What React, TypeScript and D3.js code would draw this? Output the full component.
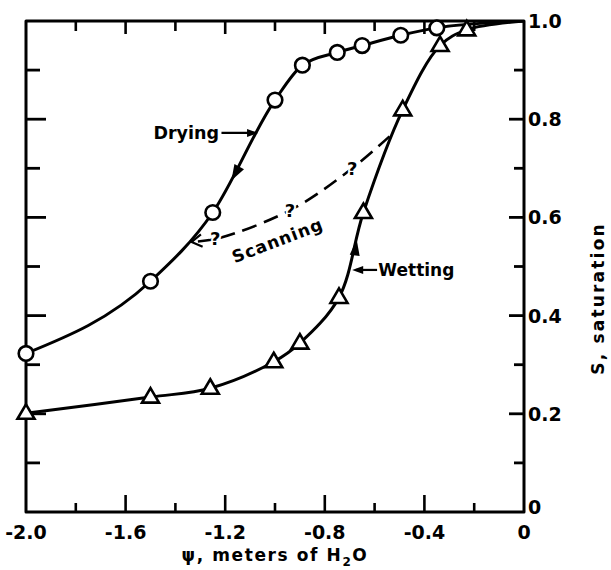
import * as d3 from "d3";

// drying branch (circles), psi in m of H2O, S saturation
const dryPsi = [-2.0, -1.5, -1.25, -1.0, -0.89, -0.75, -0.65, -0.495, -0.35];
const dryS = [0.323, 0.47, 0.61, 0.839, 0.91, 0.936, 0.95, 0.971, 0.986];
// wetting branch (triangles)
const wetPsi = [-2.0, -1.5, -1.26, -1.005, -0.9, -0.743, -0.645, -0.487, -0.337, -0.23];
const wetS = [0.201, 0.234, 0.252, 0.306, 0.344, 0.437, 0.61, 0.819, 0.95, 0.982];
// both branches close at saturation
const endPoint = [0, 1.0];
// scanning curve (dashed), from wetting branch back to drying branch
const scanPsi = [-0.54, -0.69, -0.93, -1.23, -1.335];
const scanS = [0.765, 0.7, 0.617, 0.557, 0.55];
const questionPsi = [-0.69, -0.94, -1.24];
const questionS = [0.7, 0.615, 0.557];

const xTickValues = [-2.0, -1.8, -1.6, -1.4, -1.2, -1.0, -0.8, -0.6, -0.4, -0.2, 0];
const xTickLabels = ["-2.0", "-1.6", "-1.2", "-0.8", "-0.4", "0"];
const xLabelValues = [-2.0, -1.6, -1.2, -0.8, -0.4, 0];
const yTickValues = [0, 0.1, 0.2, 0.3, 0.4, 0.5, 0.6, 0.7, 0.8, 0.9, 1.0];
const yTickLabels = ["0", "0.2", "0.4", "0.6", "0.8", "1.0"];
const yLabelValues = [0, 0.2, 0.4, 0.6, 0.8, 1.0];

const W = 611, H = 570;
const FONT = "'DejaVu Sans', sans-serif";

const x = d3.scaleLinear().domain([-2, 0]).range([26, 524]);
const y = d3.scaleLinear().domain([0, 1]).range([512, 21]);

const isMajorX = (v: number) => Math.abs(Math.round(v / 0.4) * 0.4 - v) < 1e-6;
const isMajorY = (v: number) => Math.abs(Math.round(v / 0.2) * 0.2 - v) < 1e-6;

const line = d3.line<number[]>().x(d => x(d[0])).y(d => y(d[1])).curve(d3.curveCatmullRom.alpha(0.5));
const dryLine = d3.line<number[]>().x(d => x(d[0])).y(d => y(d[1])).curve(d3.curveMonotoneX);

const dryPts = dryPsi.map((p, i) => [p, dryS[i]]);
const wetPts = wetPsi.map((p, i) => [p, wetS[i]]);
const scanPts = scanPsi.map((p, i) => [p, scanS[i]]);

// filled arrowhead with tip at (tx,ty) pointing from (fx,fy)
const arrowHead = (fx: number, fy: number, tx: number, ty: number, len = 15, half = 5) => {
  const a = Math.atan2(ty - fy, tx - fx);
  const bx = tx - len * Math.cos(a), by = ty - len * Math.sin(a);
  const nx = -Math.sin(a) * half, ny = Math.cos(a) * half;
  return `M${tx},${ty}L${bx + nx},${by + ny}L${bx - nx},${by - ny}Z`;
};

const App = () => {
  // arrow on drying curve (pointing down the curve)
  const dA = [x(-1.12), y(0.725)], dB = [x(-1.175), y(0.675)];
  // arrow on wetting curve (pointing up the curve)
  const wA = [x(-0.688), y(0.49)], wB = [x(-0.672), y(0.555)];
  // scanning chevron end
  const sEnd = [x(scanPsi[4]), y(scanS[4])];
  const sPrev = [x(-1.25), y(0.556)];
  const ca = Math.atan2(sEnd[1] - sPrev[1], sEnd[0] - sPrev[0]);

  return (
    <svg width={W} height={H} style={{ position: "absolute", left: 0, top: 0, background: "#fff" }}
      fontFamily={FONT} fontWeight="bold">
      <defs>
        <clipPath id="plot">
          <rect x={x(-2) - 10} y={y(1)} width={x(0) - x(-2) + 10} height={y(0) - y(1) + 10} />
        </clipPath>
      </defs>
      {/* frame */}
      <path d={`M${x(-2)},${y(1)}H${x(0)}V${y(0)}H${x(-2)}Z`} fill="none" stroke="#000" strokeWidth={3} strokeLinejoin="round" />
      {/* x ticks, bottom and top (inward) */}
      {xTickValues.slice(1, -1).map(v => (
        <g key={"xt" + v}>
          <line x1={x(v)} x2={x(v)} y1={y(0)} y2={y(0) - (isMajorX(v) ? 17 : 9)} stroke="#000" strokeWidth={2.6} />
          <line x1={x(v)} x2={x(v)} y1={y(1)} y2={y(1) + (isMajorX(v) ? 13 : 10)} stroke="#000" strokeWidth={2.6} />
        </g>
      ))}
      {/* y ticks, left and right (inward) */}
      {yTickValues.slice(1, -1).map(v => (
        <g key={"yt" + v}>
          <line x1={x(-2)} x2={x(-2) + (isMajorY(v) ? 20 : 14)} y1={y(v)} y2={y(v)} stroke="#000" strokeWidth={2.8} />
          <line x1={x(0)} x2={x(0) - (isMajorY(v) ? 15 : 10)} y1={y(v)} y2={y(v)} stroke="#000" strokeWidth={2.8} />
        </g>
      ))}
      {/* x labels */}
      {xLabelValues.map((v, i) => (
        <text key={"xl" + v} x={x(v)} y={y(0) + 27} textAnchor="middle" fontSize={19}>{xTickLabels[i]}</text>
      ))}
      <text x={(x(-2) + x(0)) / 2} y={y(0) + 49} textAnchor="middle" fontSize={17} letterSpacing={1.6}>
        ψ, meters of H<tspan fontSize={12} dy={5}>2</tspan><tspan dy={-5}>O</tspan>
      </text>
      {/* y labels on right */}
      {yLabelValues.map((v, i) => (
        <text key={"yl" + v} x={x(0) + 4} y={y(v) + (v === 0 ? -5 : 0)} dominantBaseline="central" fontSize={19}>{yTickLabels[i]}</text>
      ))}
      <text transform={`translate(598,${(y(0) + y(1)) / 2 + 32}) rotate(-90)`} textAnchor="middle" dominantBaseline="central"
        fontSize={17} letterSpacing={2.2}>S, saturation</text>

      {/* curves */}
      <g clipPath="url(#plot)">
        <path d={dryLine([...dryPts, endPoint])!} fill="none" stroke="#000" strokeWidth={3} />
        <path d={line([...wetPts, endPoint])!} fill="none" stroke="#000" strokeWidth={3} />
      </g>
      <path d={line(scanPts)!} fill="none" stroke="#000" strokeWidth={2.6} strokeDasharray="15 8" />
      <path d={`M${sEnd[0] + 12 * Math.cos(ca + 2.6)},${sEnd[1] + 12 * Math.sin(ca + 2.6)}L${sEnd[0]},${sEnd[1]}L${sEnd[0] + 12 * Math.cos(ca - 2.6)},${sEnd[1] + 12 * Math.sin(ca - 2.6)}`}
        fill="none" stroke="#000" strokeWidth={2.2} />
      {questionPsi.map((p, i) => (
        <text key={"q" + i} x={x(p)} y={y(questionS[i])} textAnchor="middle" dominantBaseline="central" fontSize={18}
          stroke="#fff" strokeWidth={4} paintOrder="stroke">?</text>
      ))}
      <text transform={`translate(${x(-0.99)},${y(0.553)}) rotate(-21)`} textAnchor="middle" dominantBaseline="central" fontSize={17} letterSpacing={1}>Scanning</text>

      {/* arrows along curves */}
      <path d={arrowHead(dA[0], dA[1], dB[0], dB[1], 16, 5.5)} fill="#000" />
      <path d={arrowHead(wA[0], wA[1], wB[0], wB[1], 16, 5)} fill="#000" />

      {/* labels with pointer arrows */}
      <line x1={x(-1.215)} x2={x(-1.08)} y1={y(0.772)} y2={y(0.772)} stroke="#000" strokeWidth={2.2} />
      <path d={arrowHead(x(-1.2), y(0.772), x(-1.068), y(0.772), 11, 4)} fill="#000" />
      <text x={x(-1.225)} y={y(0.772)} textAnchor="end" dominantBaseline="central" fontSize={17.5}>Drying</text>
      <line x1={x(-0.59)} x2={x(-0.675)} y1={y(0.493)} y2={y(0.493)} stroke="#000" strokeWidth={2.2} />
      <path d={arrowHead(x(-0.6), y(0.493), x(-0.69), y(0.493), 11, 4)} fill="#000" />
      <text x={x(-0.585)} y={y(0.493)} dominantBaseline="central" fontSize={17}>Wetting</text>

      {/* markers */}
      {dryPts.map((d, i) => (
        <circle key={"c" + i} cx={x(d[0])} cy={y(d[1])} r={7.3} fill="#fff" stroke="#000" strokeWidth={2.6} />
      ))}
      {wetPts.map((d, i) => (
        <path key={"t" + i} transform={`translate(${x(d[0])},${y(d[1])})`} d="M0,-9L8.5,5.5L-8.5,5.5Z"
          fill="#fff" stroke="#000" strokeWidth={2.6} strokeLinejoin="miter" />
      ))}
    </svg>
  );
};

export default App;
